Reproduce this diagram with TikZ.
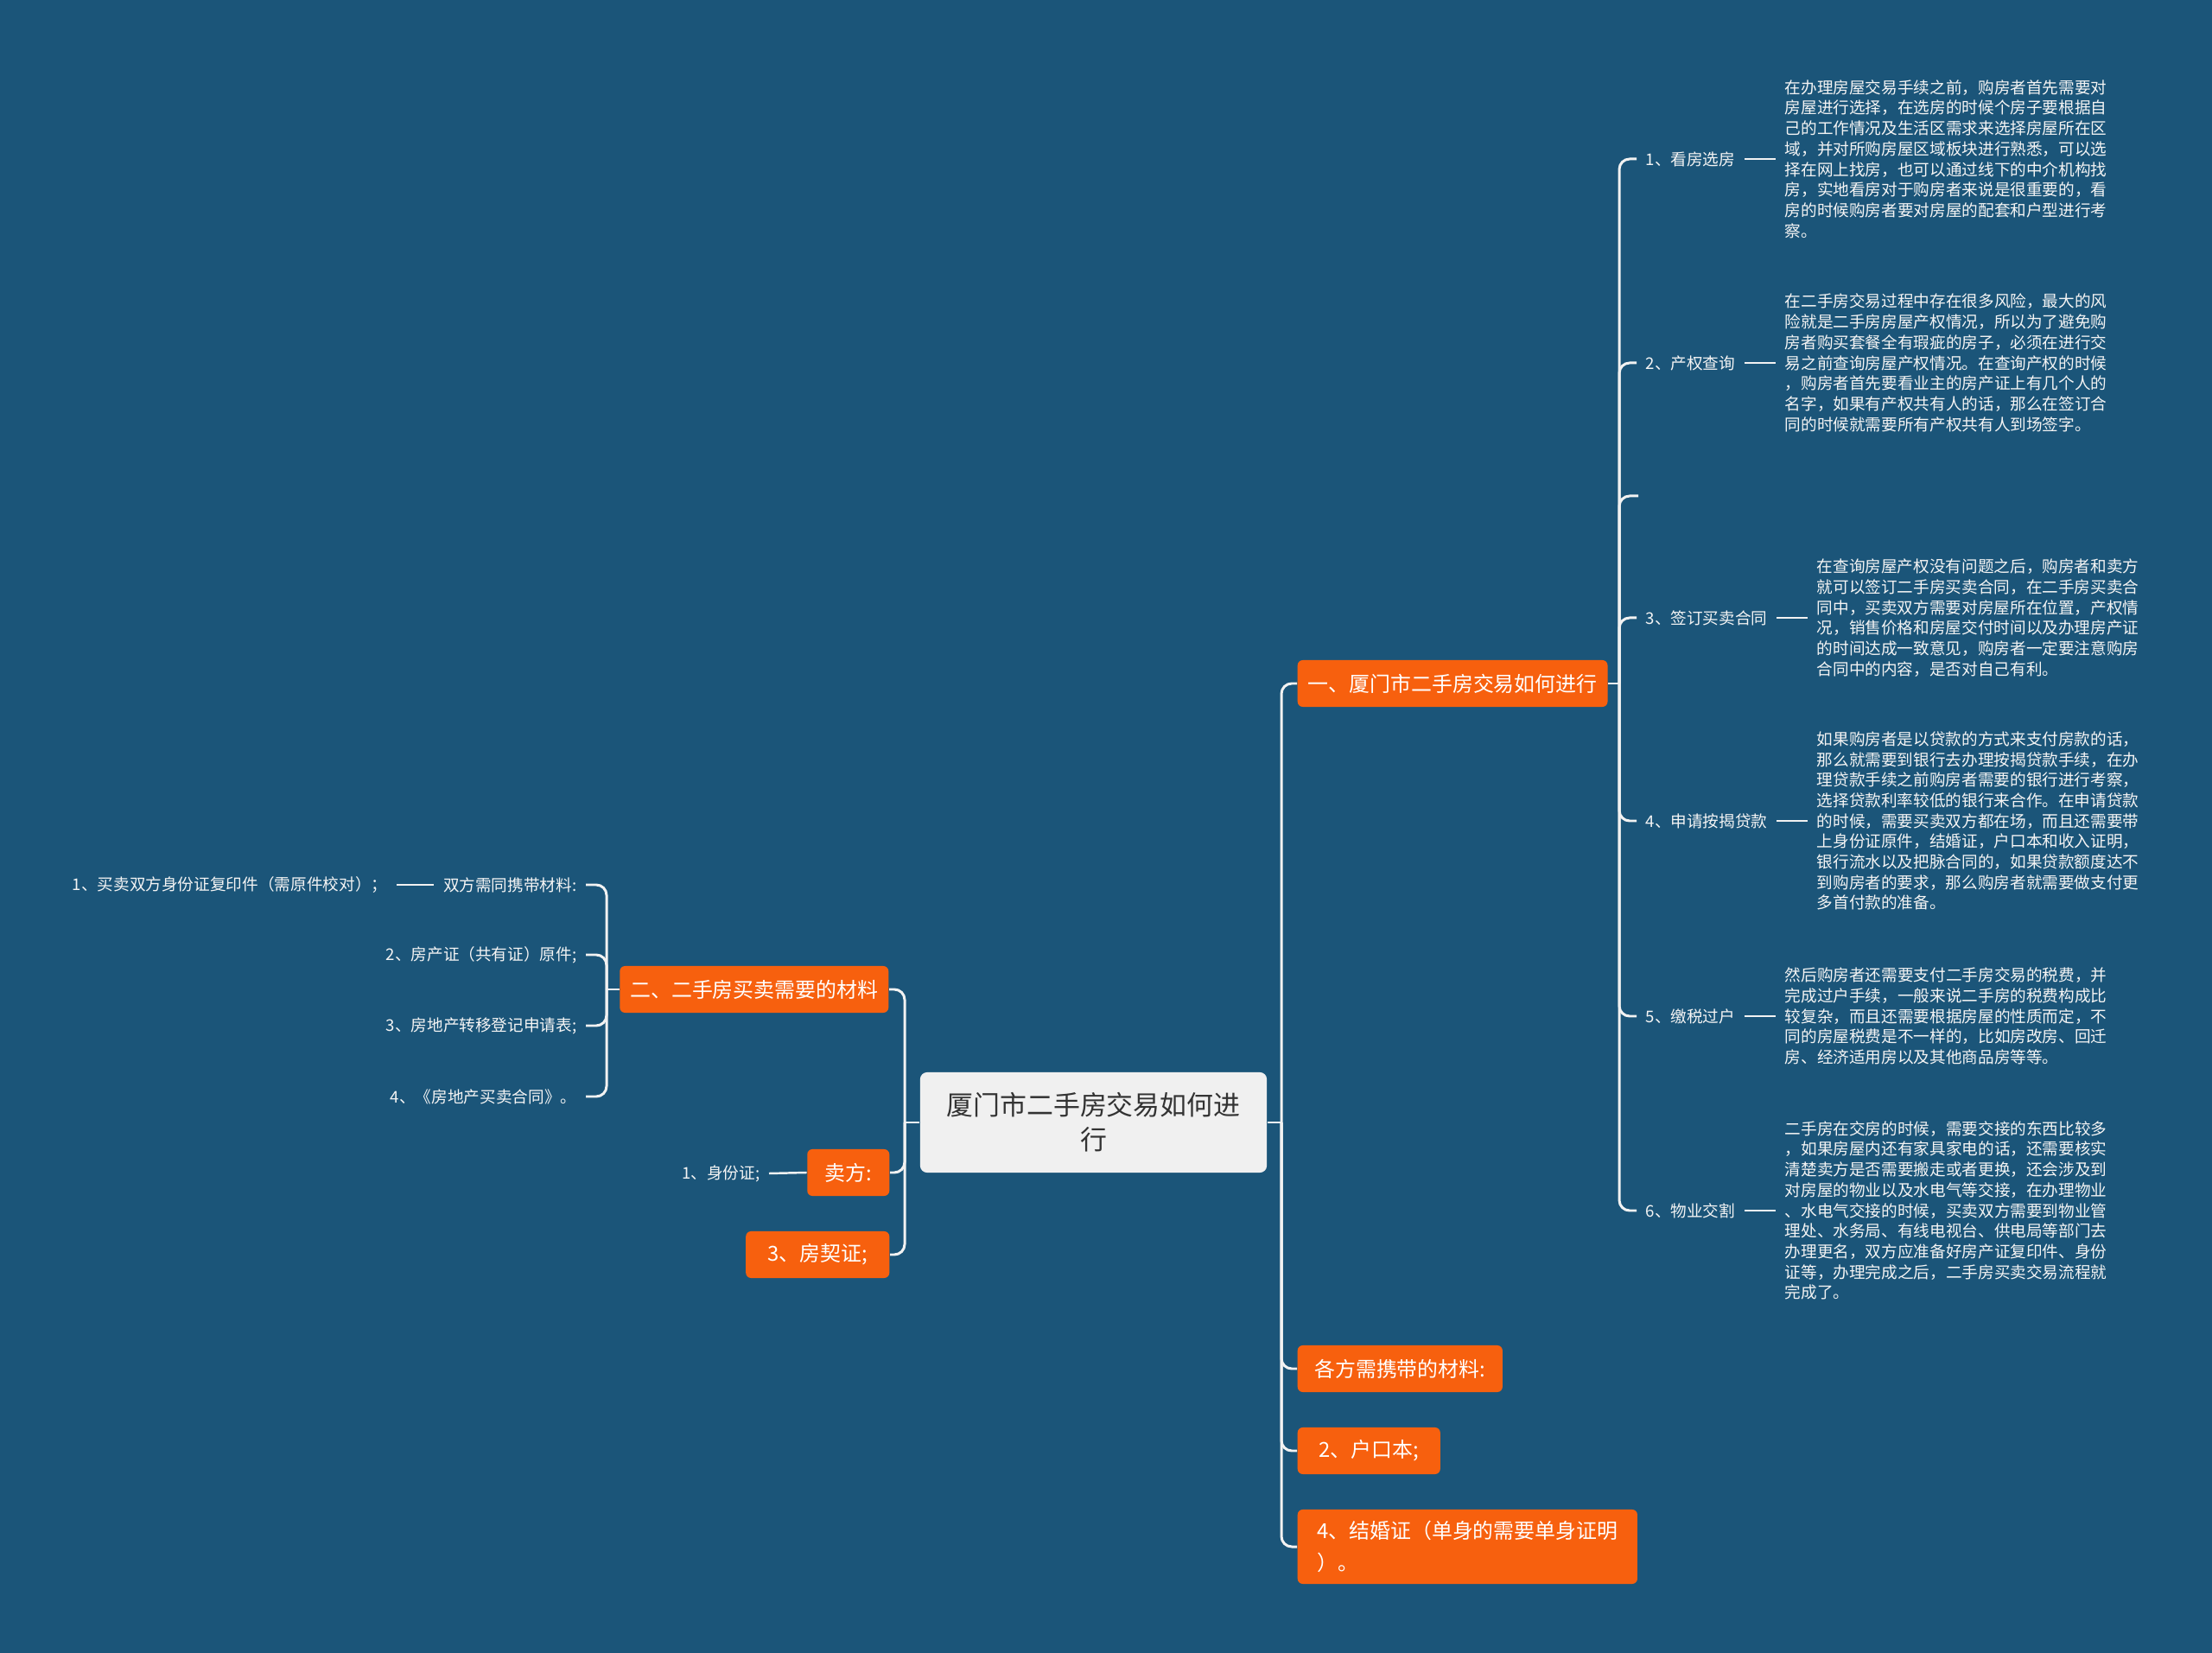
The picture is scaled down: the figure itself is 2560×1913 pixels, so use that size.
\documentclass[tikz,border=0pt]{standalone}
\usepackage{fontspec}
\setmainfont{Noto Sans CJK SC}
\usetikzlibrary{positioning}
\definecolor{bgblue}     {HTML}{1B5579}
\definecolor{topicorange}{HTML}{F7600E}
\definecolor{rootgray}   {HTML}{F0F0F0}
\definecolor{rootink}    {HTML}{333333}
\definecolor{lineclr}    {HTML}{F2F2F2}
\definecolor{textclr}    {HTML}{F4F4F4}
\tikzset{
  rootbox/.style  ={fill=rootgray, rounded corners=0.08cm,
                    minimum width=4.01cm, minimum height=1.16cm,
                    align=center, text=rootink, inner sep=0pt,
                    font=\fontsize{8.8pt}{11.4pt}\selectfont},
  topicbox/.style ={fill=topicorange, rounded corners=0.06cm,
                    minimum height=0.54cm, inner xsep=0.12cm, inner ysep=0pt,
                    text=white, font=\fontsize{6.8pt}{10.5pt}\selectfont},
  leaftext/.style ={text=textclr, inner xsep=0.1cm, inner ysep=0.02cm,
                    font=\fontsize{5.3pt}{6.74pt}\selectfont},
  notetext/.style ={leaftext, align=left, anchor=west},
  conn/.style     ={draw=lineclr, line width=0.85pt, rounded corners=0.12cm},
  dashln/.style   ={draw=lineclr, line width=0.7pt},
}
\begin{document}
\begin{tikzpicture}[x=0.01cm,y=-0.01cm]
    \fill[bgblue] (0,0) rectangle (2560,1913);

    % root
    \node[rootbox] (root) at (1265.5,1299) {厦门市二手房交易如何进\\行};
    \coordinate (hubR) at (1483,1299);
    \coordinate (hubL) at (1047,1299);
    \draw[conn] (root.east) -- (hubR);
    \draw[conn] (root.west) -- (hubL);

    % right topics
    \node[topicbox,anchor=west,minimum width=3.57cm] (t1) at (1501,791)  {一、厦门市二手房交易如何进行};
    \node[topicbox,anchor=west,minimum width=2.37cm] (t2) at (1501,1584) {各方需携带的材料:};
    \node[topicbox,anchor=west,minimum width=1.65cm] (t3) at (1501,1679) {2、户口本;};
    \node[topicbox,anchor=west,minimum width=3.93cm,minimum height=0.86cm,align=left]
                                                     (t4) at (1501,1790) {4、结婚证（单身的需要单身证明\\）。};
    \foreach \t in {t1,t2,t3,t4}
      \draw[conn] (hubR) |- (\t.west);

    % steps of t1
    \coordinate (hub1) at (1874,791);
    \draw[conn] (t1.east) -- (hub1);
    \node[leaftext,anchor=west] (l1) at (1894,184)  {1、看房选房};
    \node[leaftext,anchor=west] (l2) at (1894,420)  {2、产权查询};
    \coordinate (l0) at (1896,574);
    \node[leaftext,anchor=west] (l3) at (1894,715)  {3、签订买卖合同};
    \node[leaftext,anchor=west] (l4) at (1894,950)  {4、申请按揭贷款};
    \node[leaftext,anchor=west] (l5) at (1894,1176) {5、缴税过户};
    \node[leaftext,anchor=west] (l6) at (1894,1401) {6、物业交割};
    \draw[conn] (hub1) |- (l0);
    \foreach \l in {l1,l2,l3,l4,l5,l6}
      \draw[conn] (hub1) |- (\l.west);

    % notes
    \node[notetext] (d1) at (2055,184) {在办理房屋交易手续之前，购房者首先需要对\\
      房屋进行选择，在选房的时候个房子要根据自\\
      己的工作情况及生活区需求来选择房屋所在区\\
      域，并对所购房屋区域板块进行熟悉，可以选\\
      择在网上找房，也可以通过线下的中介机构找\\
      房，实地看房对于购房者来说是很重要的，看\\
      房的时候购房者要对房屋的配套和户型进行考\\
      察。};
    \node[notetext] (d2) at (2055,420) {在二手房交易过程中存在很多风险，最大的风\\
      险就是二手房房屋产权情况，所以为了避免购\\
      房者购买套餐全有瑕疵的房子，必须在进行交\\
      易之前查询房屋产权情况。在查询产权的时候\\
      ，购房者首先要看业主的房产证上有几个人的\\
      名字，如果有产权共有人的话，那么在签订合\\
      同的时候就需要所有产权共有人到场签字。};
    \node[notetext] (d3) at (2092,715) {在查询房屋产权没有问题之后，购房者和卖方\\
      就可以签订二手房买卖合同，在二手房买卖合\\
      同中，买卖双方需要对房屋所在位置，产权情\\
      况，销售价格和房屋交付时间以及办理房产证\\
      的时间达成一致意见，购房者一定要注意购房\\
      合同中的内容，是否对自己有利。};
    \node[notetext] (d4) at (2092,950) {如果购房者是以贷款的方式来支付房款的话，\\
      那么就需要到银行去办理按揭贷款手续，在办\\
      理贷款手续之前购房者需要的银行进行考察，\\
      选择贷款利率较低的银行来合作。在申请贷款\\
      的时候，需要买卖双方都在场，而且还需要带\\
      上身份证原件，结婚证，户口本和收入证明，\\
      银行流水以及把脉合同的，如果贷款额度达不\\
      到购房者的要求，那么购房者就需要做支付更\\
      多首付款的准备。};
    \node[notetext] (d5) at (2055,1176) {然后购房者还需要支付二手房交易的税费，并\\
      完成过户手续，一般来说二手房的税费构成比\\
      较复杂，而且还需要根据房屋的性质而定，不\\
      同的房屋税费是不一样的，比如房改房、回迁\\
      房、经济适用房以及其他商品房等等。};
    \node[notetext] (d6) at (2055,1401) {二手房在交房的时候，需要交接的东西比较多\\
      ，如果房屋内还有家具家电的话，还需要核实\\
      清楚卖方是否需要搬走或者更换，还会涉及到\\
      对房屋的物业以及水电气等交接，在办理物业\\
      、水电气交接的时候，买卖双方需要到物业管\\
      理处、水务局、有线电视台、供电局等部门去\\
      办理更名，双方应准备好房产证复印件、身份\\
      证等，办理完成之后，二手房买卖交易流程就\\
      完成了。};
    \foreach \i in {1,...,6}
      \draw[dashln] (l\i.east) -- (d\i.west);

    % left topics
    \node[topicbox,anchor=east,minimum width=3.07cm] (s1) at (1029,1145) {二、二手房买卖需要的材料};
    \node[topicbox,anchor=east,minimum width=0.95cm] (s2) at (1030,1357) {卖方:};
    \node[topicbox,anchor=east,minimum width=1.66cm] (s3) at (1030,1452) {3、房契证;};
    \foreach \s in {s1,s2,s3}
      \draw[conn] (hubL) |- (\s.east);

    % materials
    \coordinate (hub2) at (702,1145);
    \draw[conn] (s1.west) -- (hub2);
    \node[leaftext,anchor=east] (m1) at (678,1024) {双方需同携带材料:};
    \node[leaftext,anchor=east] (m2) at (678,1105) {2、房产证（共有证）原件;};
    \node[leaftext,anchor=east] (m3) at (678,1187) {3、房地产转移登记申请表;};
    \node[leaftext,anchor=east] (m4) at (678,1269) {4、《房地产买卖合同》。};
    \foreach \m in {m1,m2,m3,m4}
      \draw[conn] (hub2) |- (\m.east);
    \node[leaftext,anchor=east] (n1) at (459,1024) {1、买卖双方身份证复印件（需原件校对）；};
    \draw[dashln] (n1.east) -- (m1.west);

    % seller
    \node[leaftext,anchor=east] (id) at (890,1358) {1、身份证;};
    \draw[dashln] (id.east) -- (s2.west);
\end{tikzpicture}
\end{document}
